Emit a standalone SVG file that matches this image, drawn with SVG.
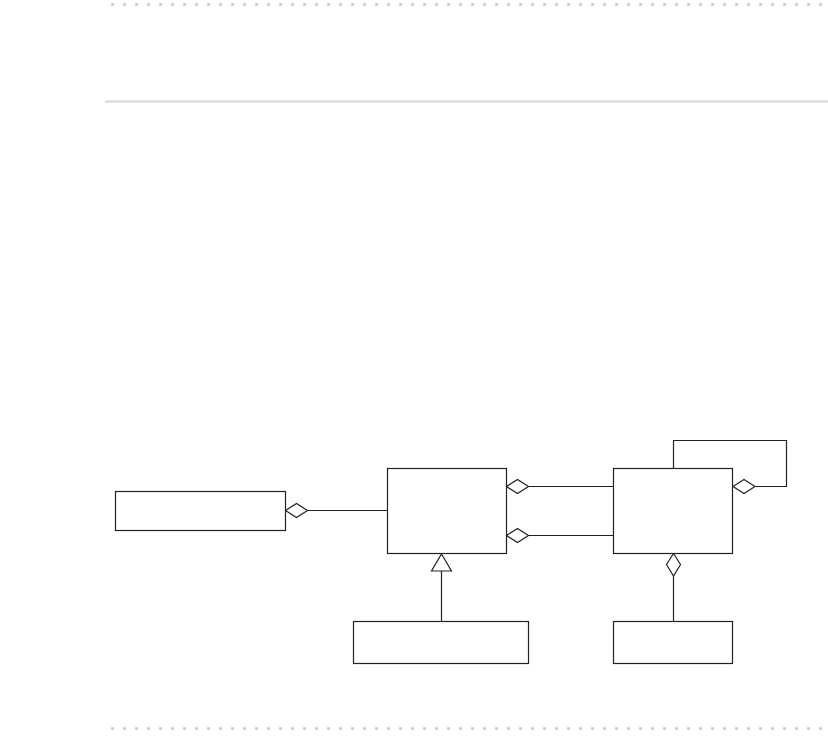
<svg xmlns="http://www.w3.org/2000/svg" width="828" height="742" viewBox="0 0 828 742">
<style>
.box{fill:#fff;stroke:#222;stroke-width:1.2}
.edge{fill:none;stroke:#222;stroke-width:1.2}
.dia{fill:#fff;stroke:#222;stroke-width:1.2}
.dots{stroke:#cfcfcf;stroke-width:3.4;stroke-dasharray:0 12;stroke-linecap:round;fill:none}
</style>
<rect width="828" height="742" fill="#fff"/>
<g id="frame">
<line class="dots" x1="112.5" y1="4.5" x2="821" y2="4.5"/>
<line x1="105" y1="101.5" x2="828" y2="101.5" stroke="#dcdcdc" stroke-width="2.4"/>
<line class="dots" x1="112.5" y1="728.5" x2="821" y2="728.5"/>
</g>
<g id="connectors">
<line class="edge" x1="307" y1="510.5" x2="387.5" y2="510.5"/>
<polygon class="dia" points="285.5,510.5 296.5,503.5 307.5,510.5 296.5,517.5"/>
<line class="edge" x1="528" y1="486.5" x2="613.5" y2="486.5"/>
<polygon class="dia" points="506.5,486.5 517.5,479.5 528.5,486.5 517.5,493.5"/>
<line class="edge" x1="528" y1="535.5" x2="613.5" y2="535.5"/>
<polygon class="dia" points="506.5,535.5 517.5,528.5 528.5,535.5 517.5,542.5"/>
<polyline class="edge" points="673.5,468.5 673.5,440.5 786.5,440.5 786.5,486.5 755,486.5"/>
<polygon class="dia" points="733,486.5 744,479.5 755,486.5 744,493.5"/>
<line class="edge" x1="441.5" y1="571" x2="441.5" y2="621.5"/>
<polygon class="dia" points="441.5,554 451.5,571 431.5,571"/>
<line class="edge" x1="673.5" y1="576" x2="673.5" y2="621.5"/>
<polygon class="dia" points="673.5,553.5 680.5,564.5 673.5,576 666.5,564.5"/>
</g>
<g id="node-a"><rect class="box" x="115.5" y="491.5" width="170" height="39"/></g>
<g id="node-b"><rect class="box" x="387.5" y="468.5" width="119" height="85"/></g>
<g id="node-c"><rect class="box" x="613.5" y="468.5" width="119" height="85"/></g>
<g id="node-d"><rect class="box" x="353.5" y="621.5" width="175" height="42"/></g>
<g id="node-e"><rect class="box" x="613.5" y="621.5" width="119" height="42"/></g>
</svg>
